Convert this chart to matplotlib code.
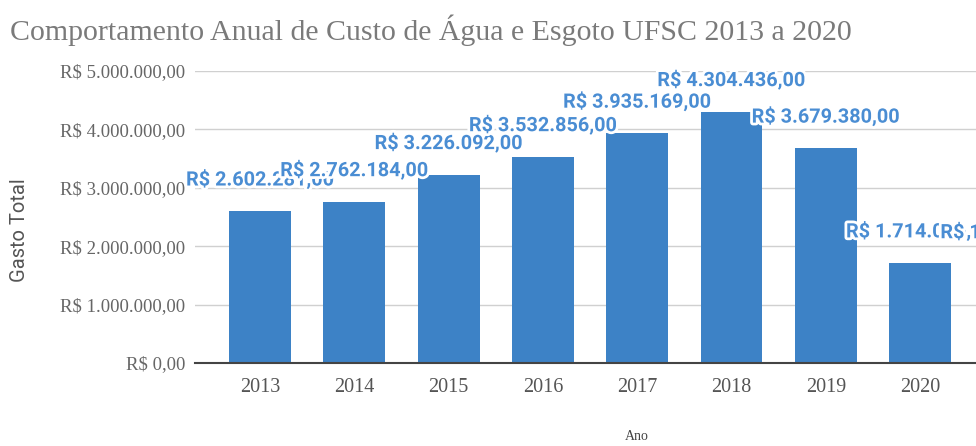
import matplotlib.pyplot as plt
import matplotlib.patheffects as pe
from matplotlib.ticker import FuncFormatter

# dados (2021 aparece so como rotulo cortado na borda)
anos = ['2013', '2014', '2015', '2016', '2017', '2018', '2019', '2020']
gastos = [2602281, 2762184, 3226092, 3532856, 3935169, 4304436, 3679380, 1714000]
ano_cortado = 8
gasto_cortado = 1700000

cor_barra = '#3d82c6'
cor_rotulo = '#4a8dd3'


def moeda(v):
    s = f"{v:,.2f}".replace(',', 'X').replace('.', ',').replace('X', '.')
    return f"R$ {s}"


fig = plt.figure(figsize=(9.76, 4.46), dpi=100)
W, H = 976, 446
esq, base, topo = 195, 363, 71
ax = fig.add_axes([esq / W, (H - base) / H, (W - esq) / W, (base - topo) / H])

x = list(range(len(anos)))
ax.bar(x, gastos, width=0.657, color=cor_barra, zorder=2)
ax.set_xlim(-0.69, 7.593)
ax.set_ylim(0, 5000000)
ax.set_yticks([0, 1000000, 2000000, 3000000, 4000000, 5000000])
ax.yaxis.set_major_formatter(FuncFormatter(lambda v, p: moeda(v)))
ax.set_xticks(x)
ax.set_xticklabels(anos)

ax.grid(axis='y', color='#d0d0d0', linewidth=1, zorder=0)
for s in ['top', 'right', 'left']:
    ax.spines[s].set_visible(False)
ax.spines['bottom'].set_color('#444444')
ax.spines['bottom'].set_linewidth(1.5)
ax.spines['bottom'].set_zorder(3)
ax.tick_params(axis='both', length=0)
ax.tick_params(axis='y', pad=7, labelsize=13.5, labelcolor='#666666')
ax.tick_params(axis='x', pad=11, labelsize=14.5, labelcolor='#555555')
for t in ax.get_yticklabels() + ax.get_xticklabels():
    t.set_family('Liberation Serif')

halo = [pe.withStroke(linewidth=4, foreground='white')]
for xi, v in list(zip(x, gastos)) + [(ano_cortado, gasto_cortado)]:
    ax.annotate(moeda(v), (xi, v), xytext=(0, 23), textcoords='offset points',
                ha='center', va='center', fontsize=14.3, fontweight='bold',
                family='Roboto', color=cor_rotulo, path_effects=halo,
                zorder=5, clip_on=False, annotation_clip=False)

fig.text(10 / W, 1 - 30 / H, 'Comportamento Anual de Custo de Água e Esgoto UFSC 2013 a 2020',
         family='Liberation Serif', fontsize=21.5, color='#7a7a7a', va='center', ha='left')
fig.text(20 / W, 1 - 230 / H, 'Gasto Total', rotation=90, family='Roboto',
         fontsize=14.5, color='#555555', va='center', ha='center')
fig.text(637 / W, 1 - 437 / H, 'Ano', family='Liberation Serif',
         fontsize=10, color='#444444', va='center', ha='center')

fig.savefig('out.png', dpi=100)
